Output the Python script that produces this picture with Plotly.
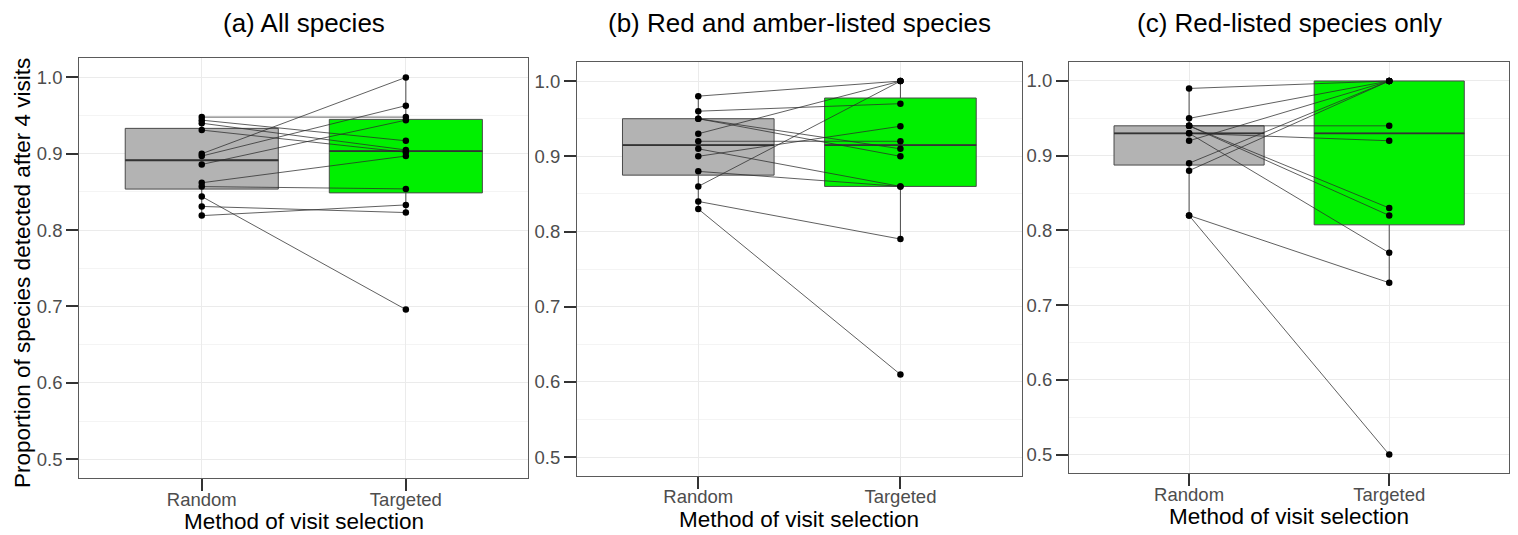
import numpy as np
import plotly.graph_objects as go

# ---------------- data ----------------
categories = ["Random", "Targeted"]
panel_titles = ["(a) All species", "(b) Red and amber-listed species", "(c) Red-listed species only"]
y_title = "Proportion of species detected after 4 visits"
x_title = "Method of visit selection"
y_ticks = [0.5, 0.6, 0.7, 0.8, 0.9, 1.0]

# (a) All species: paired values per site (Random -> Targeted)
a_random = [0.948, 0.944, 0.940, 0.931, 0.900, 0.897, 0.886, 0.862, 0.857, 0.844, 0.831, 0.819]
a_targeted = [0.948, 0.917, 0.905, 0.902, 1.000, 0.963, 0.944, 0.897, 0.854, 0.696, 0.823, 0.833]

# (b) Red and amber-listed species
b_random = [0.98, 0.96, 0.95, 0.95, 0.93, 0.92, 0.91, 0.90, 0.88, 0.86, 0.84, 0.83]
b_targeted = [1.00, 0.97, 0.91, 0.90, 1.00, 0.92, 0.86, 0.94, 0.86, 1.00, 0.79, 0.61]

# (c) Red-listed species only
c_random = [0.99, 0.95, 0.94, 0.94, 0.94, 0.93, 0.93, 0.92, 0.89, 0.88, 0.82, 0.82]
c_targeted = [1.00, 1.00, 0.94, 0.83, 0.82, 0.77, 0.92, 1.00, 1.00, 1.00, 0.73, 0.50]

panels = [(a_random, a_targeted), (b_random, b_targeted), (c_random, c_targeted)]

# ---------------- style ----------------
W, H = 1518, 535          # browser window
OFF = 8                   # default page body margin
FW, FH = W - OFF, H - OFF  # figure size
FONT = "Liberation Sans, Arial, sans-serif"
box_fills = ["#b3b3b3", "#00f000"]
box_width = 0.75
# plot-area pixel boxes in the window: left, right, top, bottom
panel_px = [
    (79.3, 528.3, 58.3, 478.3),
    (577.0, 1021.7, 62.3, 476.0),
    (1069.0, 1509.3, 62.3, 473.3),
]
y_range = [0.475, 1.025]
x_range = [-0.6, 1.6]


def px_x(px):
    return (px - OFF) / FW


def px_y(py):
    return 1 - (py - OFF) / FH


def box_stats(vals):
    v = np.asarray(vals, dtype=float)
    q1, med, q3 = np.percentile(v, [25, 50, 75])
    iqr = q3 - q1
    lo = v[v >= q1 - 1.5 * iqr].min()
    hi = v[v <= q3 + 1.5 * iqr].max()
    return q1, med, q3, lo, hi


fig = go.Figure()
annotations = []
layout_axes = {}

for i, (rnd, tgt) in enumerate(panels):
    sfx = "" if i == 0 else str(i + 1)
    xref, yref = "x" + sfx, "y" + sfx
    groups = [rnd, tgt]

    # boxes
    for k, vals in enumerate(groups):
        q1, med, q3, lo, hi = box_stats(vals)
        fig.add_trace(go.Box(
            x=[k], q1=[q1], median=[med], q3=[q3], lowerfence=[lo], upperfence=[hi],
            width=box_width, fillcolor=box_fills[k],
            line=dict(color="#4a4a4a", width=1), whiskerwidth=0,
            boxpoints=False, xaxis=xref, yaxis=yref, hoverinfo="skip",
        ))
        # thicker median line (ggplot fatten)
        fig.add_trace(go.Scatter(
            x=[k - box_width / 2, k + box_width / 2], y=[med, med], mode="lines",
            line=dict(color="#333333", width=1.8), xaxis=xref, yaxis=yref, hoverinfo="skip",
        ))

    # paired lines
    for r, t in zip(rnd, tgt):
        fig.add_trace(go.Scatter(
            x=[0, 1], y=[r, t], mode="lines",
            line=dict(color="#2b2b2b", width=0.75), xaxis=xref, yaxis=yref, hoverinfo="skip",
        ))
    # points
    xs = [0] * len(rnd) + [1] * len(tgt)
    ys = list(rnd) + list(tgt)
    fig.add_trace(go.Scatter(
        x=xs, y=ys, mode="markers", marker=dict(color="black", size=6.5),
        xaxis=xref, yaxis=yref,
    ))

    l, r_, t_, b_ = panel_px[i]
    common = dict(
        showline=True, mirror=True, linecolor="#5a5a5a", linewidth=1.2,
        ticks="outside", ticklen=12, tickwidth=2.4, tickcolor="#333333",
        tickfont=dict(family=FONT, size=18.5, color="#4d4d4d"),
        showgrid=True, gridcolor="#ebebeb", gridwidth=1, zeroline=False,
    )
    layout_axes["xaxis" + sfx] = dict(
        domain=[px_x(l), px_x(r_)], range=x_range, tickmode="array",
        tickvals=[0, 1], ticktext=categories, anchor=yref,
        ticklabelstandoff=-8, **common,
    )
    minor_vals = [(p + q) / 2 for p, q in zip(y_ticks[:-1], y_ticks[1:])]
    layout_axes["yaxis" + sfx] = dict(
        domain=[px_y(b_), px_y(t_)], range=y_range, tickmode="array",
        tickvals=y_ticks, tickformat=".1f", anchor=xref,
        minor=dict(tickmode="array", tickvals=minor_vals, showgrid=True,
                   gridcolor="#f4f4f4", gridwidth=0.8, ticks=""),
        **common,
    )

    cx = px_x((l + r_) / 2)
    annotations.append(dict(
        text=panel_titles[i], x=cx, y=px_y(23), xref="paper", yref="paper",
        xanchor="center", yanchor="middle", showarrow=False,
        font=dict(family=FONT, size=26, color="black"),
    ))
    annotations.append(dict(
        text=x_title, x=cx, y=px_y(b_ + 43), xref="paper", yref="paper",
        xanchor="center", yanchor="middle", showarrow=False,
        font=dict(family=FONT, size=22.5, color="black"),
    ))

annotations.append(dict(
    text=y_title, x=px_x(22), y=px_y(273), xref="paper", yref="paper",
    xanchor="center", yanchor="middle", showarrow=False, textangle=-90,
    font=dict(family=FONT, size=22.5, color="black"),
))

fig.update_layout(
    width=FW, height=FH, margin=dict(l=0, r=0, t=0, b=0),
    paper_bgcolor="white", plot_bgcolor="white", showlegend=False,
    annotations=annotations, font=dict(family=FONT), **layout_axes,
)

fig.write_html("out.html")
